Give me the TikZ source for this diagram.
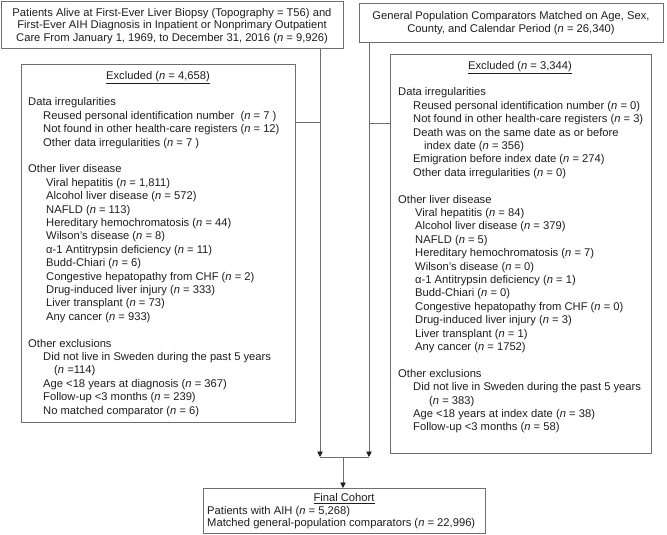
\documentclass[tikz,border=0pt]{standalone}
\usepackage{fontspec}
\setmainfont{Liberation Sans}
\usetikzlibrary{arrows.meta}
\definecolor{linegray}{HTML}{6E6E6E}
\definecolor{txtcol}{HTML}{1E1E1E}
\newcommand\nn{\textit{n}}
\newcommand\tline[4]{\node[txt] (#1) at (#2,#3) {#4};}
\begin{document}
\begin{tikzpicture}[x=1pt,y=-1pt,
  box/.style={draw=linegray, line width=0.9pt, inner sep=0pt, anchor=north west},
  txt/.style={inner sep=0pt, anchor=base west, text=txtcol, font=\fontsize{11.2}{13}\selectfont},
  ctxt/.style={txt, anchor=base},
  conn/.style={draw=linegray, line width=0.9pt},
  arr/.style={conn, -{Triangle[length=5.5pt,width=5.5pt,color=txtcol]}}]
\useasboundingbox (0,0) rectangle (667,535);
% boxes
\node[box, minimum width=342pt, minimum height=47pt] (topL) at (1,1) {};
\node[box, minimum width=304pt, minimum height=39pt] (topR) at (359,3) {};
\node[box, minimum width=274pt, minimum height=358pt] (exL) at (21,64) {};
\node[box, minimum width=261pt, minimum height=399pt] (exR) at (390,54) {};
\node[box, minimum width=282pt, minimum height=45pt] (fin) at (203,488) {};
% top texts
\node[ctxt] (tl1) at (172,16.3) {Patients Alive at First-Ever Liver Biopsy (Topography = T56) and};
\node[ctxt] (tl2) at (172,28.8) {First-Ever AIH Diagnosis in Inpatient or Nonprimary Outpatient};
\node[ctxt] (tl3) at (172,41.3) {Care From January 1, 1969, to December 31, 2016 (\nn{} = 9,926)};
\node[ctxt] (tr1) at (511,20) {General Population Comparators Matched on Age, Sex,};
\node[ctxt] (tr2) at (511,32.5) {County, and Calendar Period (\nn{} = 26,340)};
% left excluded
\node[ctxt] (lh) at (158,79.8) {\underline{Excluded (\nn{} = 4,658)}};
\tline{l0}{28}{105.8}{Data irregularities}
\tline{l1}{43}{119.2}{Reused personal identification number\ \ (\nn{} = 7 )}
\tline{l2}{43}{132.6}{Not found in other health-care registers (\nn{} = 12)}
\tline{l3}{43}{146.0}{Other data irregularities (\nn{} = 7 )}
\tline{l5}{28}{172.8}{Other liver disease}
\tline{l6}{46}{186.2}{Viral hepatitis (\nn{} = 1,811)}
\tline{l7}{46}{199.6}{Alcohol liver disease (\nn{} = 572)}
\tline{l8}{46}{213.0}{NAFLD (\nn{} = 113)}
\tline{l9}{46}{226.4}{Hereditary hemochromatosis (\nn{} = 44)}
\tline{l10}{46}{239.8}{Wilson’s disease (\nn{} = 8)}
\tline{l11}{46}{253.2}{α-1 Antitrypsin deficiency (\nn{} = 11)}
\tline{l12}{46}{266.6}{Budd-Chiari (\nn{} = 6)}
\tline{l13}{46}{280.0}{Congestive hepatopathy from CHF (\nn{} = 2)}
\tline{l14}{46}{293.4}{Drug-induced liver injury (\nn{} = 333)}
\tline{l15}{46}{306.8}{Liver transplant (\nn{} = 73)}
\tline{l16}{46}{320.2}{Any cancer (\nn{} = 933)}
\tline{l18}{28}{347.0}{Other exclusions}
\tline{l19}{43}{360.4}{Did not live in Sweden during the past 5 years}
\tline{l20}{54}{373.8}{(\nn{} =114)}
\tline{l21}{43}{387.2}{Age <18 years at diagnosis (\nn{} = 367)}
\tline{l22}{43}{400.6}{Follow-up <3 months (\nn{} = 239)}
\tline{l23}{43}{414.0}{No matched comparator (\nn{} = 6)}
% right excluded
\node[ctxt] (rh) at (520,69.8) {\underline{Excluded (\nn{} = 3,344)}};
\tline{r0}{398}{95.8}{Data irregularities}
\tline{r1}{413}{109.2}{Reused personal identification number (\nn{} = 0)}
\tline{r2}{413}{122.6}{Not found in other health-care registers (\nn{} = 3)}
\tline{r3}{413}{136.0}{Death was on the same date as or before}
\tline{r4}{424}{149.4}{index date (\nn{} = 356)}
\tline{r5}{413}{162.8}{Emigration before index date (\nn{} = 274)}
\tline{r6}{413}{176.2}{Other data irregularities (\nn{} = 0)}
\tline{r8}{398}{203.0}{Other liver disease}
\tline{r9}{415}{216.4}{Viral hepatitis (\nn{} = 84)}
\tline{r10}{415}{229.8}{Alcohol liver disease (\nn{} = 379)}
\tline{r11}{415}{243.2}{NAFLD (\nn{} = 5)}
\tline{r12}{415}{256.6}{Hereditary hemochromatosis (\nn{} = 7)}
\tline{r13}{415}{270.0}{Wilson’s disease (\nn{} = 0)}
\tline{r14}{415}{283.4}{α-1 Antitrypsin deficiency (\nn{} = 1)}
\tline{r15}{415}{296.8}{Budd-Chiari (\nn{} = 0)}
\tline{r16}{415}{310.2}{Congestive hepatopathy from CHF (\nn{} = 0)}
\tline{r17}{415}{323.6}{Drug-induced liver injury (\nn{} = 3)}
\tline{r18}{415}{337.0}{Liver transplant (\nn{} = 1)}
\tline{r19}{415}{350.4}{Any cancer (\nn{} = 1752)}
\tline{r21}{398}{377.2}{Other exclusions}
\tline{r22}{413}{390.6}{Did not live in Sweden during the past 5 years}
\tline{r23}{429}{404.0}{(\nn{} = 383)}
\tline{r24}{413}{417.4}{Age <18 years at index date (\nn{} = 38)}
\tline{r25}{413}{430.8}{Follow-up <3 months (\nn{} = 58)}
% final
\node[ctxt] (fh) at (344,501.8) {\underline{Final Cohort}};
\tline{f1}{207}{514.3}{Patients with AIH (\nn{} = 5,268)}
\tline{f2}{207}{526.8}{Matched general-population comparators (\nn{} = 22,996)}
% connectors
\coordinate (jl) at (320,457);
\coordinate (jr) at (369,457);
\coordinate (jc) at (343,457);
\coordinate (bl) at (320,122);
\coordinate (br) at (369,123);
\draw[arr] (topL.south -| jl) -- (jl);
\draw[arr] (topR.south -| jr) -- (jr);
\draw[conn] (exL.east |- bl) -- (bl);
\draw[conn] (br) -- (br -| exR.west);
\draw[conn] (jl) -- (jr);
\draw[arr] (jc) -- (fin.north -| jc);
\end{tikzpicture}
\end{document}
